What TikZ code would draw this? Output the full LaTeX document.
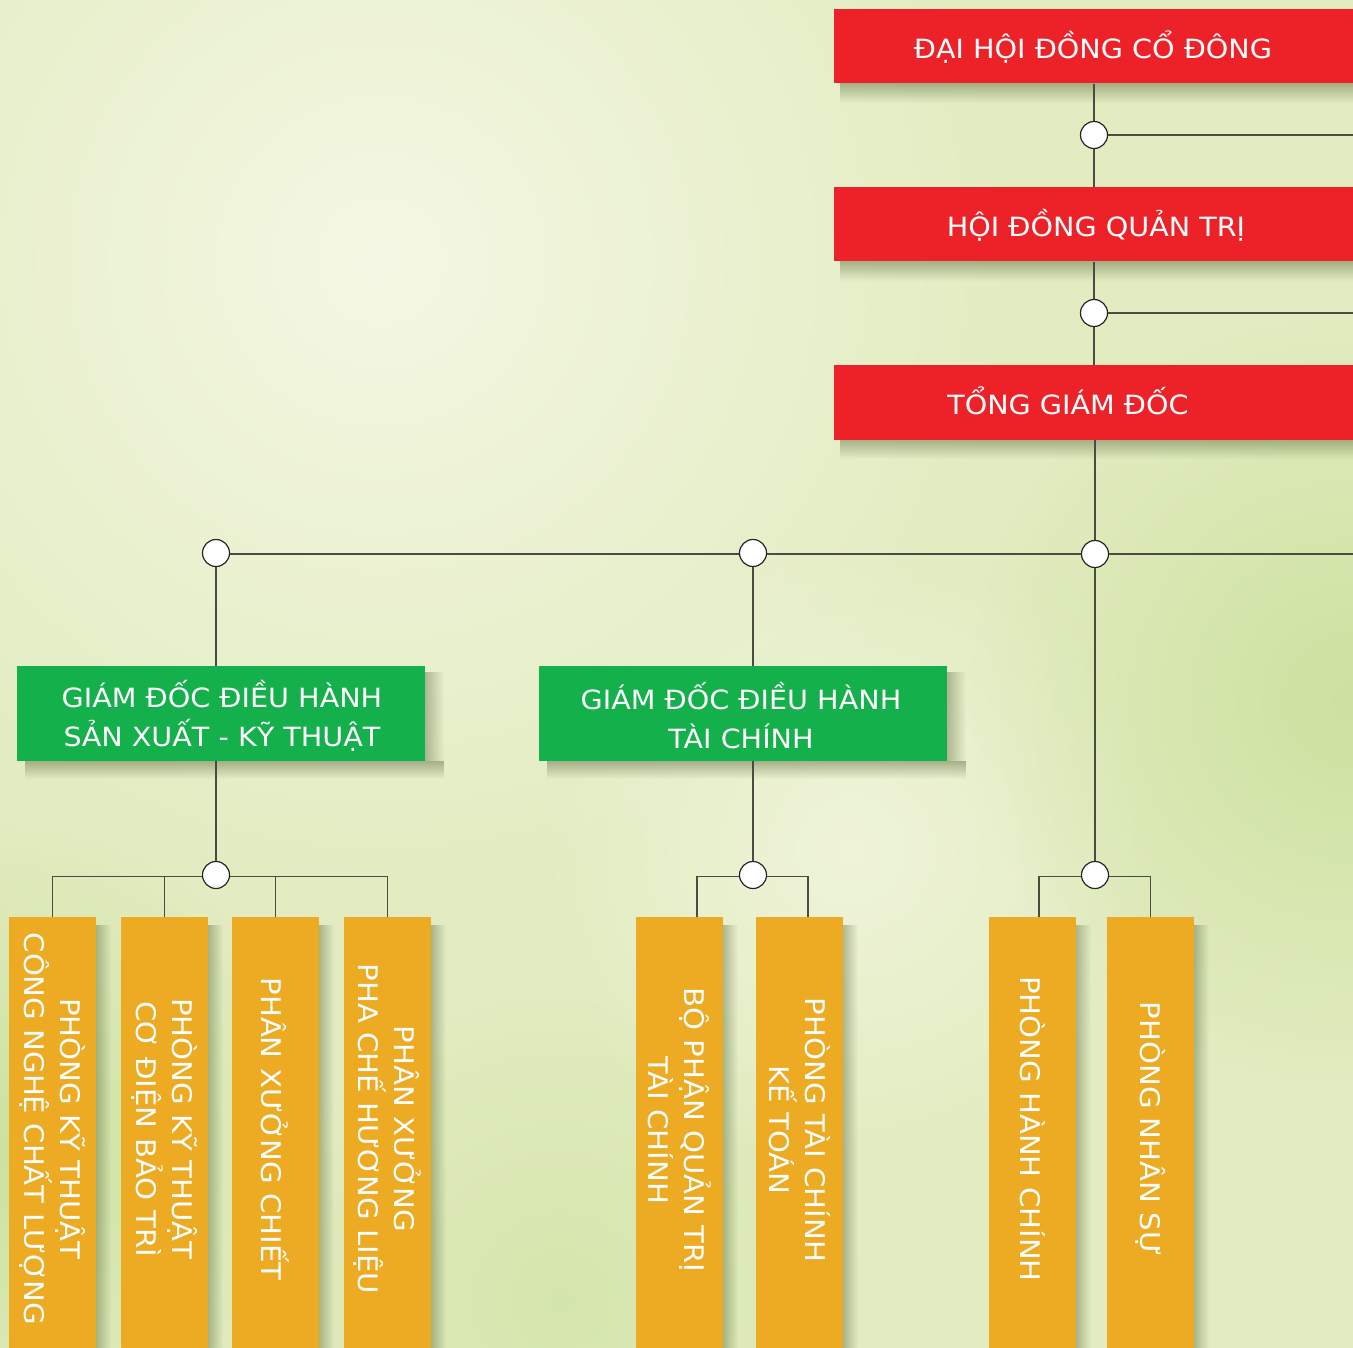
\documentclass[tikz,border=0pt]{standalone}
\usepackage{fontspec}
\setmainfont[FakeStretch=1.08]{DejaVu Sans}
\usetikzlibrary{fadings}
\definecolor{bgbase}{RGB}{226,236,192}
\definecolor{bglight}{RGB}{245,248,228}
\definecolor{bggreen}{RGB}{205,226,160}
\definecolor{redc}{RGB}{237,34,41}
\definecolor{greenc}{RGB}{20,176,75}
\definecolor{orangec}{RGB}{237,170,35}
\definecolor{linec}{RGB}{75,75,65}
\definecolor{shadowc}{RGB}{85,100,55}
\tikzfading[name=softblob, inner color=transparent!0, outer color=transparent!100]
\begin{document}
\begin{tikzpicture}[x=1pt,y=-1pt,
  redbox/.style={fill=redc, inner sep=0, minimum width=519, minimum height=74},
  redtext/.style={text=white, inner sep=0, anchor=base, font=\fontsize{26.5}{32}\selectfont},
  greenbox/.style={fill=greenc, inner sep=0, minimum width=408, minimum height=95},
  gtext/.style={text=white, inner sep=0, align=center, font=\fontsize{26.5}{39}\selectfont},
  obox/.style={fill=orangec, inner sep=0, minimum width=87, minimum height=431},
  otext/.style={text=white, inner sep=0, rotate=-90, align=center, font=\fontsize{27}{36}\selectfont},
  conn/.style={draw=linec, line width=1.3pt},
  dot/.style={circle, draw=black!85, fill=white, line width=1.2pt, minimum size=27, inner sep=0},
  rshadow/.style={fill=shadowc, opacity=0.45, path fading=south},
  sshadow/.style={fill=shadowc, opacity=0.4, path fading=east}]
\useasboundingbox (0,0) rectangle (1353,1348);
% background
\fill[bgbase] (0,0) rectangle (1353,1348);
\fill[bglight, path fading=softblob] (380,260) circle (650pt);
\fill[bglight, opacity=0.7, path fading=softblob] (850,850) circle (320pt);
\fill[bggreen, path fading=softblob] (1350,700) circle (380pt);
\fill[bggreen, path fading=softblob] (0,1150) circle (320pt);
\fill[bggreen, opacity=0.6, path fading=softblob] (560,1300) circle (300pt);

% shadows of red boxes
\foreach \yy in {83,261,439}{
  \fill[rshadow] (840,\yy) rectangle (1353,\yy+20);
}
% shadows of green boxes
\fill[sshadow] (425,672) rectangle (444,761);
\fill[rshadow] (25,761) rectangle (444,779);
\fill[sshadow] (947,672) rectangle (966,761);
\fill[rshadow] (547,761) rectangle (966,779);
% shadows of orange boxes
\foreach \xx in {96,208,319,431,723,843,1076,1194}{
  \fill[sshadow] (\xx,925) rectangle (\xx+15,1348);
}

% coordinates
\coordinate (p1) at (1094,135);
\coordinate (p2) at (1094,313);
\coordinate (p3) at (1095,554);
\coordinate (pL) at (216,553);
\coordinate (pM) at (753,553);
\coordinate (q1) at (216,875);
\coordinate (q2) at (753,875);
\coordinate (q3) at (1095,875);
\coordinate (e1) at (1353,135);
\coordinate (e2) at (1353,313);
\coordinate (e3) at (1353,554);

% boxes
\node[redbox] (r1) at (1093.5,46.5) {};
\node[redbox] (r2) at (1093.5,224.5) {};
\node[redbox] (r3) at (1093.5,402.5) {};
\node[redtext] (r1t) at (1093,59) {ĐẠI HỘI ĐỒNG CỔ ĐÔNG};
\node[redtext] (r2t) at (1096,237) {HỘI ĐỒNG QUẢN TRỊ};
\node[redtext] (r3t) at (1068,415) {TỔNG GIÁM ĐỐC};

\node[greenbox] (g1) at (221,713.5) {};
\node[greenbox] (g2) at (743,713.5) {};
\node[gtext] (g1t) at (222,715.5) {GIÁM ĐỐC ĐIỀU HÀNH\\SẢN XUẤT - KỸ THUẬT};
\node[gtext] (g2t) at (741,715.5) {GIÁM ĐỐC ĐIỀU HÀNH\\TÀI CHÍNH};

\node[obox] (o1) at (52.5,1132.5) {};
\node[obox] (o2) at (164.5,1132.5) {};
\node[obox] (o3) at (275.5,1132.5) {};
\node[obox] (o4) at (387.5,1132.5) {};
\node[obox] (o5) at (679.5,1132.5) {};
\node[obox] (o6) at (799.5,1132.5) {};
\node[obox] (o7) at (1032.5,1132.5) {};
\node[obox] (o8) at (1150.5,1132.5) {};
\node[otext] (t1) at (52.5,1129) {PHÒNG KỸ THUẬT\\CÔNG NGHỆ CHẤT LƯỢNG};
\node[otext] (t2) at (164.5,1129) {PHÒNG KỸ THUẬT\\CƠ ĐIỆN BẢO TRÌ};
\node[otext] (t3) at (275.5,1129) {PHÂN XƯỞNG CHIẾT};
\node[otext] (t4) at (387.5,1129) {PHÂN XƯỞNG\\PHA CHẾ HƯƠNG LIỆU};
\node[otext] (t5) at (679.5,1130) {BỘ PHẬN QUẢN TRỊ\\TÀI CHÍNH};
\node[otext] (t6) at (799.5,1130) {PHÒNG TÀI CHÍNH\\KẾ TOÁN};
\node[otext] (t7) at (1032.5,1129) {PHÒNG HÀNH CHÍNH};
\node[otext] (t8) at (1150.5,1129) {PHÒNG NHÂN SỰ};

% connectors
\draw[conn] (p1 |- r1.south) -- (p1) -- (p1 |- r2.north);
\draw[conn] (p1) -- (e1);
\draw[conn] (p2 |- r2.south) -- (p2) -- (p2 |- r3.north);
\draw[conn] (p2) -- (e2);
\draw[conn] (p3 |- r3.south) -- (p3) -- (q3);
\draw[conn] (pL |- e3) -- (e3);
\draw[conn] (pL) -- (pL |- g1.north);
\draw[conn] (pM) -- (pM |- g2.north);
\draw[conn] (q1 |- g1.south) -- (q1);
\draw[conn] (q2 |- g2.south) -- (q2);
\draw[conn] (o1.north) -- ++(0,-40) -| (o4.north);
\draw[conn] (o2.north) -- ++(0,-40);
\draw[conn] (o3.north) -- ++(0,-40);
\draw[conn] ([xshift=17.5pt]o5.north) -- ++(0,-40) -| ([xshift=8.5pt]o6.north);
\draw[conn] ([xshift=6.5pt]o7.north) -- ++(0,-40) -| (o8.north);

% junction circles
\node[dot] (c1) at (p1) {};
\node[dot] (c2) at (p2) {};
\node[dot] (c3) at (p3) {};
\node[dot] (cL) at (pL) {};
\node[dot] (cM) at (pM) {};
\node[dot] (b1) at (q1) {};
\node[dot] (b2) at (q2) {};
\node[dot, minimum width=24] (b3) at (q3) {};
\end{tikzpicture}
\end{document}
